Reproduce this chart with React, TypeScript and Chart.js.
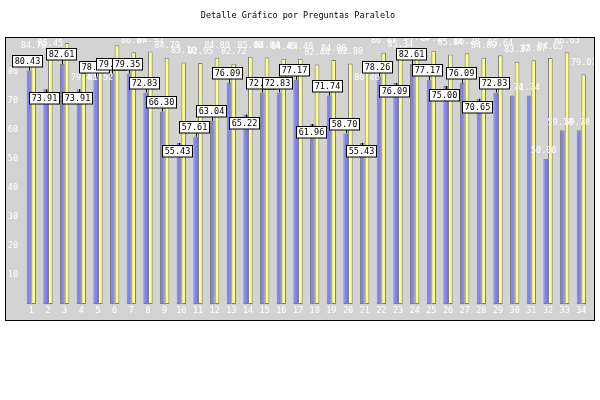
import React, { useEffect, useRef } from "react";
import { Chart, registerables } from "chart.js";

Chart.register(...registerables);

const TITLE = "Detalle Gráfico por Preguntas Paralelo";

const categories = [
  "1", "2", "3", "4", "5", "6", "7", "8", "9", "10", "11", "12", "13", "14", "15", "16", "17",
  "18", "19", "20", "21", "22", "23", "24", "25", "26", "27", "28", "29", "30", "31", "32", "33", "34",
];

const blueValues = [
  80.43, 73.91, 82.61, 73.91, 78.26, 79.35, 79.35, 72.83, 66.3, 55.43, 57.61, 63.04, 76.09, 65.22,
  72.83, 72.83, 77.17, 61.96, 71.74, 58.7, 55.43, 78.26, 76.09, 82.61, 77.17, 75.0, 76.09, 70.65,
  72.83, 71.74, 71.74, 50.0, 59.78, 59.78,
];

const yellowValues = [
  84.78, 85.45, 89.8, 79.47, 81.52, 89.02, 86.67, 86.95, 84.79, 83.1, 82.95, 84.8, 82.72, 85.06,
  84.84, 84.45, 84.4, 82.44, 84.0, 82.8, 80.4, 86.47, 85.34, 87.5, 87.19, 85.84, 86.28, 84.8,
  85.64, 83.37, 83.87, 84.65, 86.63, 79.07,
];

const yAxisMax = 91.9;
const yTickStep = 10;

// label placement hint for the blue series: u = box above, d = box below, t = plain text
const blueLabelPlacement = "ududuuuuuduuuduuuduududuududuttttt";

const BLUE = "#8080ff";
const YELLOW = "#ffff80";
const EDGE = "#808080";
const PANEL = "#d3d3d3";
const FONT_FAMILY = "'DejaVu Sans Mono', 'Liberation Mono', monospace";
const FONT_SIZE = 8.5;

const PANEL_BOX = { x: 5.5, y: 37.5, w: 589, h: 283 };

const framePlugin = {
  id: "frame",
  beforeDraw(chart: any) {
    const ctx = chart.ctx as CanvasRenderingContext2D;
    ctx.save();
    ctx.fillStyle = "#ffffff";
    ctx.fillRect(0, 0, chart.width, chart.height);
    ctx.fillStyle = PANEL;
    ctx.fillRect(PANEL_BOX.x, PANEL_BOX.y, PANEL_BOX.w, PANEL_BOX.h);
    ctx.strokeStyle = "#000000";
    ctx.lineWidth = 1;
    ctx.strokeRect(PANEL_BOX.x, PANEL_BOX.y, PANEL_BOX.w, PANEL_BOX.h);
    ctx.fillStyle = "#000000";
    ctx.font = `${FONT_SIZE}px ${FONT_FAMILY}`;
    ctx.textAlign = "center";
    ctx.textBaseline = "middle";
    ctx.fillText(TITLE, 298, 15.5);
    ctx.restore();
  },
};

type Rect = { l: number; r: number; t: number; b: number };
const overlaps = (a: Rect, b: Rect) => a.l < b.r && a.r > b.l && a.t < b.b && a.b > b.t;

const labelPlugin = {
  id: "valueLabels",
  afterDatasetsDraw(chart: any) {
    const ctx = chart.ctx as CanvasRenderingContext2D;
    const blueMeta = chart.getDatasetMeta(0);
    const yellowMeta = chart.getDatasetMeta(1);
    ctx.save();
    ctx.beginPath();
    ctx.rect(PANEL_BOX.x + 0.5, PANEL_BOX.y + 0.5, PANEL_BOX.w - 1, PANEL_BOX.h - 1);
    ctx.clip();
    ctx.font = `${FONT_SIZE}px ${FONT_FAMILY}`;
    ctx.textAlign = "center";
    ctx.textBaseline = "middle";

    // compute boxes for blue labels
    const boxH = 11.5;
    const boxes: { rect: Rect; text: string; bx: number; by: number; mode: string }[] = [];
    const plain: { x: number; y: number; text: string }[] = [];
    blueMeta.data.forEach((el: any, i: number) => {
      const text = blueValues[i].toFixed(2);
      const mode = blueLabelPlacement[i] || "u";
      const w = ctx.measureText(text).width + 4;
      const cx = el.x - 2;
      if (mode === "t") {
        plain.push({ x: cx, y: el.y - 8, text });
        return;
      }
      let t: number;
      if (mode === "u") t = el.y - 4 - boxH;
      else t = el.y + 2.5;
      const rect = { l: Math.round(cx - w / 2) + 0.5, r: Math.round(cx - w / 2) + 0.5 + Math.round(w), t: Math.round(t) + 0.5, b: Math.round(t) + 0.5 + boxH };
      boxes.push({ rect, text, bx: el.x, by: el.y, mode });
    });

    // yellow labels as light text, pushed under a box when they would collide
    ctx.fillStyle = "#ffffff";
    yellowMeta.data.forEach((el: any, i: number) => {
      const text = yellowValues[i].toFixed(2);
      const w = ctx.measureText(text).width;
      let cy = el.y - 11.5;
      for (let pass = 0; pass < 2; pass++) {
        const r = { l: el.x - w / 2, r: el.x + w / 2, t: cy - 3, b: cy + 3 };
        const hit = boxes.find((b) => overlaps(r, b.rect));
        if (!hit) break;
        cy = hit.rect.b + 4.5;
      }
      ctx.fillText(text, el.x, cy);
    });

    plain.forEach((p) => ctx.fillText(p.text, p.x, p.y));

    // boxed blue labels with connectors
    ctx.lineWidth = 1;
    boxes.forEach((b) => {
      const lx = Math.round(b.bx) + 0.5;
      ctx.strokeStyle = "#000000";
      ctx.beginPath();
      if (b.mode === "u") {
        ctx.moveTo(lx, b.by);
        ctx.lineTo(lx, b.rect.b);
      } else {
        ctx.moveTo(lx, b.by);
        ctx.lineTo(lx, b.rect.t);
      }
      ctx.stroke();
      ctx.fillStyle = "#ffffff";
      ctx.fillRect(b.rect.l, b.rect.t, b.rect.r - b.rect.l, b.rect.b - b.rect.t);
      ctx.strokeRect(b.rect.l, b.rect.t, b.rect.r - b.rect.l, b.rect.b - b.rect.t);
      ctx.fillStyle = "#000000";
      ctx.fillText(b.text, (b.rect.l + b.rect.r) / 2, (b.rect.t + b.rect.b) / 2 + 0.5);
    });
    ctx.restore();
  },
};

export default function App() {
  const ref = useRef<HTMLCanvasElement>(null);

  useEffect(() => {
    const prevMargin = document.body.style.margin;
    document.body.style.margin = "0";
    const canvas = ref.current!;
    const font = { family: FONT_FAMILY, size: FONT_SIZE };
    const chart = new Chart(canvas, {
      type: "bar",
      data: {
        labels: categories,
        datasets: [
          {
            data: blueValues,
            backgroundColor: BLUE,
            borderColor: EDGE,
            borderWidth: 1,
            borderSkipped: false,
            categoryPercentage: 0.56,
            barPercentage: 1,
          },
          {
            data: yellowValues,
            backgroundColor: YELLOW,
            borderColor: EDGE,
            borderWidth: 1,
            borderSkipped: false,
            categoryPercentage: 0.56,
            barPercentage: 1,
          },
        ],
      } as any,
      options: {
        responsive: false,
        animation: false,
        devicePixelRatio: 1,
        layout: { padding: { top: 37, left: 5, right: 10.3, bottom: 80 } },
        plugins: {
          legend: { display: false },
          title: { display: false },
          tooltip: { enabled: false },
        },
        scales: {
          x: {
            grid: { display: false, drawTicks: false },
            border: { display: false },
            ticks: { color: "#ffffff", font, padding: 2, maxRotation: 0, minRotation: 0, autoSkip: false },
            afterFit: (s: any) => {
              s.height = 16;
            },
          },
          y: {
            min: 0,
            max: yAxisMax,
            grid: { display: false, drawTicks: false },
            border: { display: false },
            ticks: {
              stepSize: yTickStep,
              color: "#ffffff",
              font,
              padding: 5,
              callback: (v: any) => (v > 0 && Math.abs(v % yTickStep) < 1e-9 ? String(v) : ""),
            },
            afterFit: (s: any) => {
              s.width = 18;
            },
          },
        },
      } as any,
      plugins: [framePlugin, labelPlugin],
    });
    return () => {
      chart.destroy();
      document.body.style.margin = prevMargin;
    };
  }, []);

  return (
    <div style={{ position: "fixed", left: 0, top: 0, width: 600, height: 400 }}>
      <canvas ref={ref} width={600} height={400} style={{ display: "block" }} />
    </div>
  );
}
